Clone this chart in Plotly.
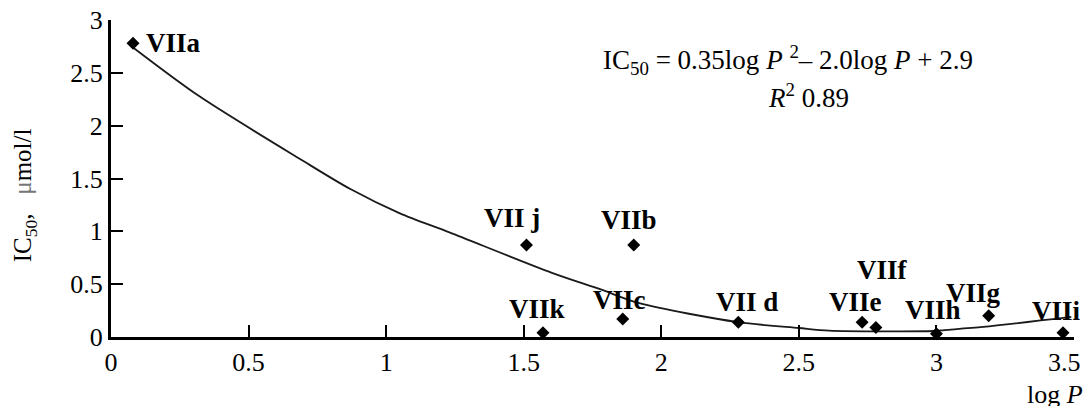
import plotly.graph_objects as go

# Compound data (log P, IC50 in µmol/l)
compounds = ["VIIa", "VII j", "VIIb", "VIIk", "VIIc", "VII d", "VIIe", "VIIf", "VIIh", "VIIg", "VIIi"]
log_p = [0.08, 1.51, 1.90, 1.57, 1.86, 2.28, 2.73, 2.78, 3.00, 3.19, 3.46]
ic50 = [2.78, 0.87, 0.87, 0.04, 0.17, 0.14, 0.14, 0.09, 0.03, 0.20, 0.04]

# Trend curve
curve_x = [0.08, 0.32, 0.69, 0.87, 1.05, 1.23, 1.60, 1.78, 1.92, 2.28, 2.50, 2.61, 2.99, 3.03, 3.17, 3.49]
curve_y = [2.74, 2.28, 1.68, 1.40, 1.17, 0.99, 0.61, 0.45, 0.32, 0.14, 0.085, 0.06, 0.057, 0.066, 0.095, 0.19]

x_ticks = [0, 0.5, 1, 1.5, 2, 2.5, 3, 3.5]
x_tick_labels = ["0", "0.5", "1", "1.5", "2", "2.5", "3", "3.5\u00a0\u00a0\u00a0"]
y_ticks = [0, 0.5, 1, 1.5, 2, 2.5, 3]
y_tick_labels = ["0", "0.5", "1", "1.5", "2", "2.5", "3"]

equation = "IC<sub>50</sub> = 0.35log <i>P</i> <sup>2</sup>– 2.0log <i>P</i> + 2.9"
r2_text = "<i>R</i><sup>2</sup> 0.89"
x_title = "log <i>P</i>"
y_title = "IC<sub>50</sub>,   <span style='color:#777'>μ</span>mol/l"

# label offsets in pixels (style only)
label_shift = {
    "VIIa": (40, 0), "VII j": (-14, 27), "VIIb": (-5, 25), "VIIk": (-6, 24),
    "VIIc": (-3, 19), "VII d": (9, 20), "VIIe": (-7, 20), "VIIf": (7, 57),
    "VIIh": (-3, 24), "VIIg": (-15, 23), "VIIi": (-6, 22),
}

SERIF = "Liberation Serif, Times New Roman, serif"

fig = go.Figure()
fig.add_trace(go.Scatter(x=curve_x, y=curve_y, mode="lines",
                         line=dict(color="#1a1a1a", width=1.8, shape="spline", smoothing=0.8),
                         hoverinfo="skip", cliponaxis=False))
fig.add_trace(go.Scatter(x=log_p, y=ic50, mode="markers",
                         marker=dict(symbol="diamond", size=10, color="black"),
                         cliponaxis=False))

annotations = []
for name, xv, yv in zip(compounds, log_p, ic50):
    dx, dy = label_shift[name]
    annotations.append(dict(x=xv, y=yv, xref="x", yref="y", text=name, showarrow=False,
                            xshift=dx, yshift=dy, xanchor="center", yanchor="middle",
                            font=dict(family=SERIF, size=27, color="black", weight="bold")))

annotations.append(dict(x=0.703, y=0.874, xref="paper", yref="paper", text=equation,
                        xanchor="center", yanchor="middle",
                        showarrow=False, font=dict(family=SERIF, size=27, color="black")))
annotations.append(dict(x=0.724, y=0.760, xref="paper", yref="paper", text=r2_text,
                        xanchor="center", yanchor="middle",
                        showarrow=False, font=dict(family=SERIF, size=27, color="black")))
annotations.append(dict(x=0.98, y=-0.18, xref="paper", yref="paper", text=x_title,
                        xanchor="center", yanchor="middle",
                        showarrow=False, font=dict(family=SERIF, size=26, color="black")))
annotations.append(dict(x=-0.089, y=0.448, xref="paper", yref="paper",
                        text=y_title, textangle=-90, xanchor="center", yanchor="middle",
                        showarrow=False, font=dict(family=SERIF, size=25, color="black")))

fig.update_layout(
    width=1087, height=406,
    margin=dict(l=111, r=13, t=20, b=69, autoexpand=False),
    paper_bgcolor="white", plot_bgcolor="white",
    showlegend=False,
    annotations=annotations,
    font=dict(family=SERIF, size=26, color="black"),
)
fig.update_xaxes(range=[0, 3.5], tickvals=x_ticks, ticktext=x_tick_labels,
                 showgrid=False, zeroline=False, showline=True, linecolor="black", linewidth=3,
                 ticks="inside", ticklen=12, tickwidth=2, tickcolor="black",
                 ticklabeloverflow="allow", automargin=False,
                 tickfont=dict(family=SERIF, size=26, color="black"))
fig.update_yaxes(range=[0, 3], tickvals=y_ticks, ticktext=y_tick_labels,
                 showgrid=False, zeroline=False, showline=True, linecolor="black", linewidth=3,
                 ticks="inside", ticklen=12, tickwidth=2, tickcolor="black",
                 automargin=False,
                 tickfont=dict(family=SERIF, size=26, color="black"))

fig.write_html("out.html", config={"displayModeBar": False},
               post_script="document.body.style.margin='0';")
